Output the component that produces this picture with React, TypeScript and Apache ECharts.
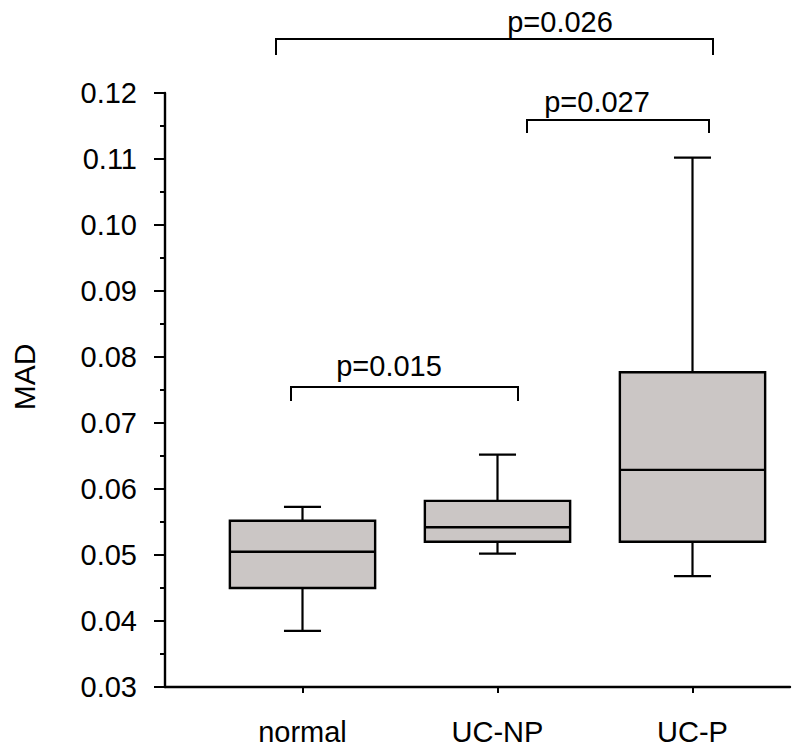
import React, { useEffect, useRef } from "react";
import * as echarts from "echarts";

const categories = ["normal", "UC-NP", "UC-P"];
const lowerWhisker = [0.0385, 0.0502, 0.0468];
const q1 = [0.045, 0.052, 0.052];
const medians = [0.0505, 0.0542, 0.0629];
const q3 = [0.0552, 0.0582, 0.0777];
const upperWhisker = [0.0573, 0.0652, 0.1102];

const yMin = 0.03;
const yMax = 0.12;
const yInterval = 0.01;
const yName = "MAD";

const pLabels = ["p=0.015", "p=0.027", "p=0.026"];

const FONT = "'Liberation Sans', Arial, Helvetica, sans-serif";
const FS = 29;
const BLACK = "#000000";
const BOX_FILL = "#cbc6c5";
const LW = 2.4;

export default function App() {
  const ref = useRef<HTMLDivElement>(null);

  useEffect(() => {
    if (!ref.current) return;
    const chart = echarts.init(ref.current, undefined, { renderer: "svg" });

    const data = categories.map((_, i) => [
      i,
      lowerWhisker[i],
      q1[i],
      medians[i],
      q3[i],
      upperWhisker[i],
    ]);

    const brackets = [
      { label: pLabels[0], pts: [[291, 401], [291, 387], [518, 387], [518, 401]], tx: 389, ty: 366 },
      { label: pLabels[1], pts: [[527, 133], [527, 120], [709, 120], [709, 133]], tx: 597, ty: 102 },
      { label: pLabels[2], pts: [[276, 55], [276, 39], [713, 39], [713, 55]], tx: 560, ty: 22 },
    ];

    const graphics: any[] = [];
    brackets.forEach((b) => {
      graphics.push({
        type: "polyline",
        shape: { points: b.pts },
        style: { stroke: BLACK, lineWidth: 2, fill: null },
        z: 10,
      });
      graphics.push({
        type: "text",
        x: b.tx,
        y: b.ty,
        style: {
          text: b.label,
          font: `${FS}px ${FONT}`,
          fill: BLACK,
          align: "center",
          verticalAlign: "middle",
        },
        z: 11,
      });
    });
    graphics.push({
      type: "text",
      x: 24,
      y: 377,
      rotation: Math.PI / 2,
      style: {
        text: yName,
        font: `${FS + 1}px ${FONT}`,
        fill: BLACK,
        align: "center",
        verticalAlign: "middle",
      },
    });

    const option: any = {
      animation: false,
      backgroundColor: "#ffffff",
      textStyle: { fontFamily: FONT },
      grid: [
        { left: 165, right: 10, top: 93, height: 594 },
        { left: 205, right: 10, top: 93, height: 594 },
      ],
      xAxis: [
        {
          gridIndex: 0,
          type: "value",
          min: 0,
          max: 1,
          axisLine: { show: true, lineStyle: { color: BLACK, width: LW } },
          axisTick: { show: false },
          axisLabel: { show: false },
          splitLine: { show: false },
        },
        {
          gridIndex: 1,
          type: "category",
          data: categories,
          boundaryGap: true,
          axisLine: { show: false },
          axisTick: {
            show: true,
            alignWithLabel: true,
            length: 6,
            lineStyle: { color: BLACK, width: 2 },
          },
          axisLabel: {
            color: BLACK,
            fontSize: FS,
            fontFamily: FONT,
            margin: 30,
          },
          splitLine: { show: false },
        },
      ],
      yAxis: [
        {
          gridIndex: 0,
          type: "value",
          min: yMin,
          max: yMax,
          interval: yInterval,
          axisLine: { show: true, lineStyle: { color: BLACK, width: LW } },
          axisTick: {
            show: true,
            inside: false,
            length: 11,
            lineStyle: { color: BLACK, width: 2 },
          },
          minorTick: {
            show: true,
            splitNumber: 2,
            length: 5,
            lineStyle: { color: BLACK, width: 2 },
          },
          axisLabel: {
            color: BLACK,
            fontSize: FS,
            fontFamily: FONT,
            margin: 28,
            formatter: (v: number) => v.toFixed(2),
          },
          splitLine: { show: false },
          minorSplitLine: { show: false },
        },
        {
          gridIndex: 1,
          type: "value",
          min: yMin,
          max: yMax,
          interval: yInterval,
          show: false,
          splitLine: { show: false },
        },
      ],
      series: [
        {
          type: "custom",
          xAxisIndex: 1,
          yAxisIndex: 1,
          data,
          encode: { x: 0, y: [1, 2, 3, 4, 5] },
          renderItem: (params: any, api: any) => {
            const idx = api.value(0);
            const band = api.size([1, 0])[0];
            const boxW = band * 0.745;
            const capW = band * 0.19;
            const pLow = api.coord([idx, api.value(1)]);
            const pQ1 = api.coord([idx, api.value(2)]);
            const pMed = api.coord([idx, api.value(3)]);
            const pQ3 = api.coord([idx, api.value(4)]);
            const pHigh = api.coord([idx, api.value(5)]);
            const cx = pMed[0];
            const ls = { stroke: BLACK, lineWidth: 2.2 };
            return {
              type: "group",
              children: [
                { type: "line", shape: { x1: cx, y1: pLow[1], x2: cx, y2: pQ1[1] }, style: ls },
                { type: "line", shape: { x1: cx, y1: pQ3[1], x2: cx, y2: pHigh[1] }, style: ls },
                { type: "line", shape: { x1: cx - capW / 2, y1: pLow[1], x2: cx + capW / 2, y2: pLow[1] }, style: ls },
                { type: "line", shape: { x1: cx - capW / 2, y1: pHigh[1], x2: cx + capW / 2, y2: pHigh[1] }, style: ls },
                {
                  type: "rect",
                  shape: { x: cx - boxW / 2, y: pQ3[1], width: boxW, height: pQ1[1] - pQ3[1] },
                  style: { fill: BOX_FILL, stroke: BLACK, lineWidth: LW },
                },
                { type: "line", shape: { x1: cx - boxW / 2, y1: pMed[1], x2: cx + boxW / 2, y2: pMed[1] }, style: { stroke: BLACK, lineWidth: LW } },
              ],
            };
          },
        },
      ],
      graphic: graphics,
    };

    chart.setOption(option);
    return () => chart.dispose();
  }, []);

  return <div ref={ref} style={{ width: 800, height: 755, margin: -8 }} />;
}
